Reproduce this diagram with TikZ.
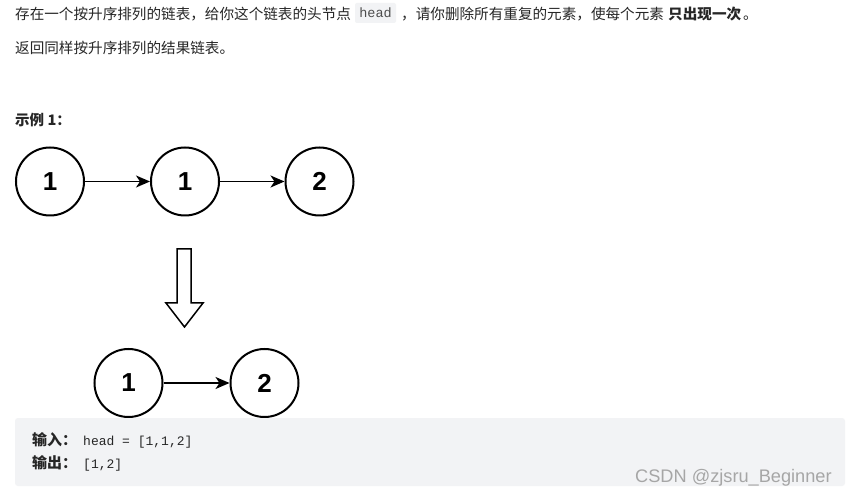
\documentclass[tikz,border=0pt]{standalone}
\usepackage{fontspec}
\setmainfont{Liberation Sans}
\newfontfamily\cjk{Noto Sans CJK SC}
\newfontfamily\monof{Liberation Mono}
\usetikzlibrary{arrows.meta}
\definecolor{txtc}{HTML}{262626}
\definecolor{boxc}{HTML}{F2F3F5}
\definecolor{codec}{HTML}{4D4D4D}
\definecolor{wmc}{HTML}{A6A6A6}
\tikzset{
  txt/.style={anchor=base west, inner sep=0pt, text=txtc, font=\cjk\fontsize{14.6}{17}\selectfont},
  lnode/.style={circle, draw=black, line width=2pt, minimum size=68pt, inner sep=0pt,
    font=\bfseries\fontsize{26}{30}\selectfont},
  link/.style={line width=1.8pt, -{Stealth[length=14pt,width=12pt,inset=4pt]}},
  codebox/.style={fill=boxc, rounded corners=2pt, minimum width=41pt, minimum height=20pt,
    inner sep=0pt, text=codec, font=\monof\fontsize{13.5}{16}\selectfont},
  iotxt/.style={anchor=base west, inner sep=0pt, text=txtc, font=\cjk\bfseries\fontsize{15}{17}\selectfont},
  iocode/.style={anchor=base west, inner sep=0pt, text=txtc, font=\monof\fontsize{13}{16}\selectfont},
}
\begin{document}
\begin{tikzpicture}[x=1pt,y=-1pt]
\fill[white] (0,0) rectangle (849,494);
\useasboundingbox (0,0) rectangle (849,494);
% heading text
\node[txt] (l1a) at (15,19.5) {存在一个按升序排列的链表，给你这个链表的头节点};
\node[codebox] (hd) at (375.5,13) {head};
\node[txt] (l1b) at (401,19.5) {，请你删除所有重复的元素，使每个元素};
\node[txt, font=\cjk\bfseries\fontsize{14.6}{17}\selectfont] (l1c) at (668,19.5) {只出现一次};
\node[txt] (l1d) at (743,19.5) {。};
\node[txt] (l2) at (15,54) {返回同样按升序排列的结果链表。};
\node[txt, font=\cjk\bfseries\fontsize{14.5}{17}\selectfont] (ex) at (15,125.5) {示例 1：};
% row 1
\node[lnode] (a1) at (50,181.5) {1};
\node[lnode] (a2) at (185,181.5) {1};
\node[lnode] (a3) at (319.5,181.5) {2};
\draw[link] (a1) -- (a2);
\draw[link] (a2) -- (a3);
% hollow arrow
\draw[line width=1.5pt, line join=miter] (177,249) -- (191,249) -- (191,303) -- (203,303) -- (184.5,327) -- (166,303) -- (177,303) -- cycle;
% row 2
\node[lnode] (b1) at (128.5,383) {1};
\node[lnode] (b2) at (264.5,383) {2};
\draw[link] (b1) -- (b2);
% example box
\fill[boxc, rounded corners=3pt] (15,418) rectangle (845,486);
\node[iotxt] (in) at (32,445.5) {输入：};
\node[iocode] (inv) at (83,445) {head = [1,1,2]};
\node[iotxt] (out) at (32,468.5) {输出：};
\node[iocode] (outv) at (83,468) {[1,2]};
\node[anchor=base west, inner sep=0pt, text=wmc, font=\fontsize{18.2}{20}\selectfont] (wm) at (635,482) {CSDN @zjsru\_Beginner};
\end{tikzpicture}
\end{document}
